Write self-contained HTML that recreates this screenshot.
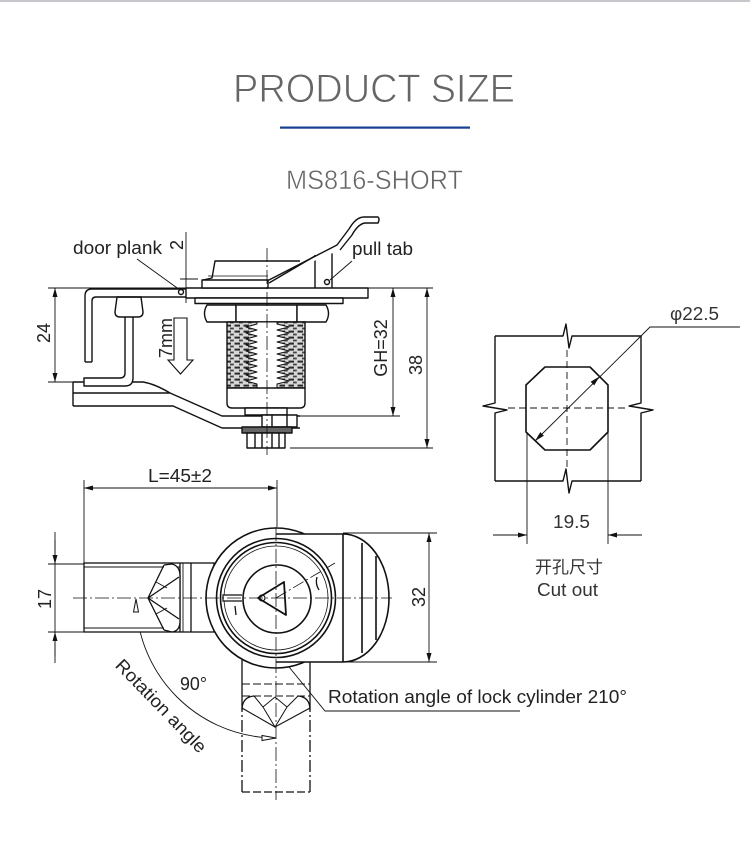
<!DOCTYPE html>
<html><head><meta charset="utf-8"><style>
html,body{margin:0;padding:0;background:#fff;}
svg{display:block;}
text{font-family:"Liberation Sans","Noto Sans CJK SC",sans-serif;}
</style></head><body>
<svg width="750" height="848" viewBox="0 0 750 848" xmlns="http://www.w3.org/2000/svg">
<defs>
<marker id="ar" viewBox="0 0 10 10" refX="10" refY="5" markerWidth="9" markerHeight="5" preserveAspectRatio="none" orient="auto-start-reverse" markerUnits="userSpaceOnUse"><path d="M0,0 L10,5 L0,10 Z" fill="#111"/></marker>
<pattern id="hatch" width="9" height="6" patternUnits="userSpaceOnUse">
<rect width="9" height="6" fill="#d8d8d8"/>
<rect x="0.5" y="0.6" width="5.5" height="2" fill="#2a2a2a"/>
<rect x="5" y="3.6" width="3.8" height="1.8" fill="#444"/>
</pattern>
</defs>
<rect width="750" height="848" fill="#fff"/>
<rect x="0" y="0" width="750" height="2" fill="#c8c8cc"/>
<text x="233" y="102" font-size="39.5" fill="#666" stroke="#fff" stroke-width="0.9" textLength="282" lengthAdjust="spacingAndGlyphs">PRODUCT SIZE</text>
<rect x="280" y="126.5" width="190" height="2.2" fill="#153f8f"/>
<text x="286" y="189" font-size="26.5" fill="#666" stroke="#fff" stroke-width="0.5" textLength="177" lengthAdjust="spacingAndGlyphs">MS816-SHORT</text>

<!-- ===== SIDE VIEW ===== -->
<g fill="none" stroke="#111" stroke-width="0.9">
 <line x1="48" y1="288" x2="433" y2="288"/>
 <line x1="48" y1="382" x2="73" y2="382"/>
 <line x1="300" y1="416" x2="400" y2="416"/>
 <line x1="290" y1="448" x2="433" y2="448"/>
 <line x1="55" y1="288" x2="55" y2="382" marker-start="url(#ar)" marker-end="url(#ar)"/>
 <line x1="393" y1="288" x2="393" y2="416" marker-start="url(#ar)" marker-end="url(#ar)"/>
 <line x1="427" y1="288" x2="427" y2="448" marker-start="url(#ar)" marker-end="url(#ar)"/>
 <line x1="186" y1="232" x2="186" y2="303"/>
 <line x1="180" y1="279" x2="198" y2="279"/>
 <line x1="137" y1="259" x2="180" y2="290"/>
 <line x1="330" y1="280" x2="352" y2="261"/>
</g>
<g fill="none" stroke="#111" stroke-width="1.4" stroke-linejoin="round">
 <path d="M73,382 L73,406"/>
 <path d="M73,382 L143,382 Q155,384 170,393"/>
 <path d="M73,393 L170,393 L222,416 L300,416" fill="none"/>
 <path d="M73,406 L173,406 L222,428 L300,428"/>
 <path d="M133,317 L133,378 Q133,386 125,386 L84,386 L84,378 L120,378 Q125,378 125,373 L125,317" fill="#fff"/>
 <path d="M117,297 L141,297 L143,312 Q143,317 138,317 L120,317 Q115,317 115,312 Z" fill="#fff"/>
 <path d="M85,362 L85,296 Q85,289 92,289 L186,289"/>
 <path d="M92,362 L92,301 Q92,297 96,297 L186,297"/>
 <path d="M85,362 L92,362"/>
 <rect x="186" y="288" width="182" height="10" fill="#fff"/>
 <rect x="195" y="298" width="148" height="5.5" fill="#fff"/>
 <path d="M203,280 L212,278 L215,261 L300,261" fill="none"/>
 <rect x="202" y="280" width="66" height="8" fill="#fff"/>
 <line x1="208" y1="276" x2="268" y2="276" stroke-width="0.8"/>
 <path d="M315,288 L315,255"/>
 <path d="M332,288 L332,252 Q333,247 337,247"/>
 <path d="M267,281 L337,245 L349,229 Q356,217 364,217 L378,217 Q380,219 378,223 L365,223 Q358,224 352,235 L340,250" fill="#fff"/>
 <path d="M269,283 L315,256"/>
 <circle cx="327" cy="282" r="2.5" fill="#fff"/>
 <circle cx="181" cy="292" r="2.5" fill="#fff"/>
 <path d="M236,305 L207,305 Q202,313.5 207,322 L236,322 Z" fill="#fff"/>
 <rect x="236" y="305" width="61" height="17" fill="#fff"/>
 <path d="M297,305 L326,305 Q331,313.5 326,322 L297,322 Z" fill="#fff"/>
 <rect x="227" y="322" width="78" height="66" fill="url(#hatch)"/>
 <polygon fill="#fff" stroke-width="1" points="257,322 257,324 246,327 257,330 246,333 257,336 246,339 257,342 246,345 257,348 246,351 257,354 246,357 257,360 246,363 257,366 246,369 257,372 246,375 257,378 246,381 257,384 257,388 277,388 277,384 289,381 277,378 289,375 277,372 289,369 277,366 289,363 277,360 289,357 277,354 289,351 277,348 289,345 277,342 289,339 277,336 289,333 277,330 289,327 277,324 277,322"/>
 <path d="M227,388 L305,388 L305,403 Q305,408 300,408 L232,408 Q227,408 227,403 Z" fill="#fff"/>
 <rect x="245" y="408" width="42" height="7" fill="#fff"/>
 <rect x="262" y="415" width="35" height="12" fill="#fff"/>
 <line x1="272" y1="415" x2="272" y2="427"/>
 <line x1="287" y1="415" x2="287" y2="427"/>
 <rect x="242" y="427" width="50" height="6" fill="#666"/>
 <rect x="247" y="433" width="38" height="15" fill="#fff"/>
 <line x1="255" y1="433" x2="255" y2="448"/>
 <line x1="262" y1="433" x2="262" y2="448"/>
 <line x1="272" y1="433" x2="272" y2="448"/>
 <line x1="279" y1="433" x2="279" y2="448"/>
</g>
<line x1="267" y1="248" x2="267" y2="455" stroke="#111" stroke-width="0.8" stroke-dasharray="14 3 2 3"/>
<polygon points="174,318 187,318 187,360 193,360 180.5,374 168,360 174,360" fill="#fff" stroke="#111" stroke-width="1.1"/>
<g fill="#222" font-size="18">
 <text x="73" y="254" textLength="89" lengthAdjust="spacingAndGlyphs">door plank</text>
 <text x="352" y="255" textLength="61" lengthAdjust="spacingAndGlyphs">pull tab</text>
 <text transform="translate(183,245) rotate(-90)" text-anchor="middle">2</text>
 <text transform="translate(172,338) rotate(-90)" text-anchor="middle">7mm</text>
 <text transform="translate(50,333) rotate(-90)" text-anchor="middle">24</text>
 <text transform="translate(387,348) rotate(-90)" text-anchor="middle">GH=32</text>
 <text transform="translate(422,365) rotate(-90)" text-anchor="middle">38</text>
</g>

<!-- ===== CUT OUT ===== -->
<g fill="none" stroke="#111" stroke-width="1.4" stroke-linejoin="round">
 <path d="M495,336 L563,336 L566,324 L569,348 L572,336 L641,336"/>
 <path d="M495,481 L563,481 L566,469 L569,493 L572,481 L641,481"/>
 <path d="M495,336 L495,403 L483,406 L507,410 L495,413 L495,481"/>
 <path d="M641,336 L641,403 L629,406 L653,410 L641,413 L641,481"/>
 <polygon points="545,367 590,367 608,385 608,432 590,450 545,450 526,432 526,385" stroke-width="1.6"/>
</g>
<g fill="none" stroke="#111" stroke-width="0.9">
 <line x1="567" y1="350" x2="567" y2="467" stroke-dasharray="7 4"/>
 <line x1="508" y1="408" x2="627" y2="408" stroke-dasharray="7 4"/>
 <polyline points="535,441 641,336 650,327 740,327"/>
 <line x1="527" y1="432" x2="527" y2="544"/>
 <line x1="608" y1="432" x2="608" y2="544"/>
 <line x1="493" y1="535" x2="527" y2="535" marker-end="url(#ar)"/>
 <line x1="642" y1="535" x2="608" y2="535" marker-end="url(#ar)"/>
</g>
<polygon points="599.5,376.5 594.2,385.4 590.6,381.8" fill="#111"/>
<polygon points="535,441 543.9,435.7 540.3,432.1" fill="#111"/>
<g fill="#333" font-size="18">
 <text x="670" y="320" textLength="49" lengthAdjust="spacingAndGlyphs">φ22.5</text>
 <text x="553" y="528" textLength="37" lengthAdjust="spacingAndGlyphs">19.5</text>
 <text x="569" y="573" text-anchor="middle" font-size="17">开孔尺寸</text>
 <text x="537" y="596" textLength="61" lengthAdjust="spacingAndGlyphs">Cut out</text>
</g>

<!-- ===== BOTTOM VIEW ===== -->
<g fill="none" stroke="#111" stroke-width="0.9">
 <line x1="84" y1="480" x2="84" y2="563"/>
 <line x1="277" y1="480" x2="277" y2="527"/>
 <line x1="84" y1="488" x2="277" y2="488" marker-start="url(#ar)" marker-end="url(#ar)"/>
 <line x1="48" y1="564" x2="84" y2="564"/>
 <line x1="48" y1="632" x2="84" y2="632"/>
 <line x1="55" y1="532" x2="55" y2="663"/>
 <line x1="55" y1="540" x2="55" y2="564" marker-end="url(#ar)"/>
 <line x1="55" y1="656" x2="55" y2="632" marker-end="url(#ar)"/>
 <line x1="343" y1="533" x2="437" y2="533"/>
 <line x1="343" y1="662" x2="437" y2="662"/>
 <line x1="429" y1="533" x2="429" y2="662" marker-start="url(#ar)" marker-end="url(#ar)"/>
 <path d="M136.7,612 A140,140 0 0 0 262,737.3"/>
 <polyline points="267,640 325,711 520,711"/>
</g>
<g fill="none" stroke="#111" stroke-width="1.3">
 <line x1="242" y1="660" x2="242" y2="700"/>
 <line x1="310" y1="660" x2="310" y2="700"/>
 <line x1="242" y1="700" x2="242" y2="792" stroke-dasharray="12 3 2 3"/>
 <line x1="310" y1="700" x2="310" y2="792" stroke-dasharray="12 3 2 3"/>
 <line x1="242" y1="792" x2="310" y2="792" stroke-dasharray="8 3"/>
 <line x1="242" y1="684" x2="310" y2="684" stroke-dasharray="8 3" stroke-width="1"/>
 <line x1="242" y1="696" x2="310" y2="696" stroke-dasharray="8 3" stroke-width="1"/>
 <path d="M242,710 Q242,697 254,696"/>
 <path d="M310,710 Q310,697 298,696"/>
 <polyline points="242,708 275,727 310,708" stroke-width="1.1"/>
 <polyline points="254,696 263,707 275,727 287,707 298,696" stroke-width="1"/>
 <line x1="263" y1="707" x2="275" y2="697" stroke-width="0.9"/>
 <line x1="287" y1="707" x2="275" y2="697" stroke-width="0.9"/>
</g>
<g fill="none" stroke="#111" stroke-width="1.3">
 <rect x="84" y="563" width="130" height="69" fill="#fff"/>
 <line x1="84" y1="567" x2="180" y2="567" stroke-width="0.9"/>
 <line x1="84" y1="628" x2="180" y2="628" stroke-width="0.9"/>
 <line x1="180" y1="563" x2="180" y2="632"/>
 <line x1="183" y1="563" x2="183" y2="632" stroke-width="0.9"/>
 <line x1="191" y1="563" x2="191" y2="632"/>
 <path d="M164,565 L172,564 Q180,566 180,576 L180,621 Q180,631 172,632 L164,630" fill="#fff"/>
 <line x1="148" y1="598" x2="164" y2="565"/>
 <line x1="148" y1="598" x2="164" y2="630"/>
 <line x1="148" y1="598" x2="179" y2="577"/>
 <line x1="148" y1="598" x2="179" y2="619"/>
 <line x1="156" y1="582" x2="167" y2="588" stroke-width="0.9"/>
 <line x1="156" y1="614" x2="167" y2="608" stroke-width="0.9"/>
</g>
<circle cx="276" cy="598" r="70" fill="#fff" stroke="#111" stroke-width="1.6"/>
<path d="M276,534 L343,534 A46,64 0 0 1 343,662 L276,662 Z" fill="#fff"/>
<g fill="none" stroke="#111" stroke-width="1.6">
 <path d="M276,534 L343,534 A46,64 0 0 1 343,662 L276,662"/>
 <line x1="343" y1="534" x2="343" y2="662"/>
 <line x1="362" y1="543" x2="362" y2="653"/>
 <line x1="376" y1="556" x2="376" y2="640"/>
 <circle cx="276" cy="598" r="59.5" fill="#fff"/>
 <circle cx="276" cy="598" r="55.5"/>
 <circle cx="276" cy="598" r="52" stroke-width="0.8"/>
 <circle cx="277" cy="599" r="34"/>
 <polygon points="258,598 284,582 286,615" stroke-linejoin="round" stroke-width="1.8"/>
 <circle cx="262" cy="598" r="3" stroke-width="1.2"/>
 <path d="M242,595 L223,595 L223,601 L242,601" stroke-width="1.2" fill="#fff"/>
 <path d="M235,606 L236,615" stroke-width="1.3"/>
 <path d="M317,577 Q315,584 319,590" stroke-width="1.3"/>
</g>
<g fill="none" stroke="#111" stroke-width="0.8">
 <line x1="73" y1="598" x2="392" y2="598" stroke-dasharray="14 3 2 3"/>
 <line x1="276" y1="527" x2="276" y2="800" stroke-dasharray="14 3 2 3"/>
 <line x1="276" y1="598" x2="335" y2="563" stroke-dasharray="12 3 2 3"/>
</g>
<polygon points="136,599 133.5,612 138.5,612" fill="#fff" stroke="#111" stroke-width="1"/>
<polygon points="276,738 262,735.5 262,740.5" fill="#fff" stroke="#111" stroke-width="1"/>
<g fill="#222" font-size="18">
 <text x="148" y="482" textLength="64" lengthAdjust="spacingAndGlyphs">L=45±2</text>
 <text transform="translate(51,599) rotate(-90)" text-anchor="middle">17</text>
 <text transform="translate(425,597) rotate(-90)" text-anchor="middle">32</text>
 <text x="180" y="690" textLength="27" lengthAdjust="spacingAndGlyphs">90°</text>
 <text transform="translate(161,706) rotate(46)" text-anchor="middle" dy="6" textLength="122" lengthAdjust="spacingAndGlyphs">Rotation angle</text>
 <text x="328" y="703" textLength="299" lengthAdjust="spacingAndGlyphs">Rotation angle of lock cylinder 210°</text>
</g>
</svg>
</body></html>
